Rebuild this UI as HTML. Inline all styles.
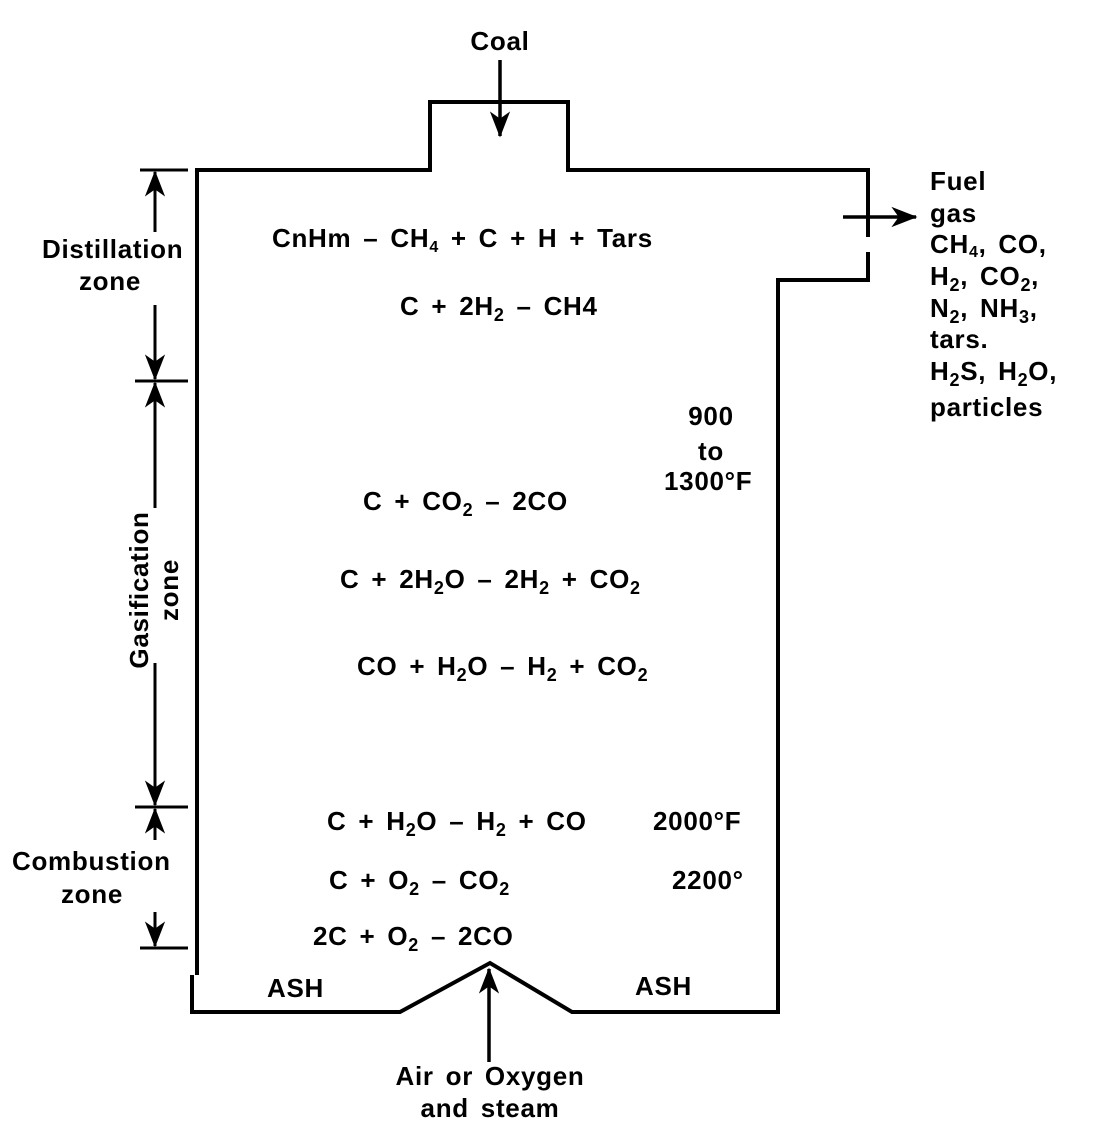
<!DOCTYPE html>
<html><head><style>
html,body{margin:0;padding:0;background:#fff;}
svg{display:block;}
text{font-family:"Liberation Sans",sans-serif;font-size:26px;font-weight:bold;fill:#000;word-spacing:4px;letter-spacing:0.7px;}
</style></head><body>
<svg width="1096" height="1131" viewBox="0 0 1096 1131" xmlns="http://www.w3.org/2000/svg">
<defs>
<marker id="ab" markerWidth="26" markerHeight="26" refX="17" refY="9" orient="auto" markerUnits="userSpaceOnUse" viewBox="0 0 18 18">
<path d="M0,2 L18,9 L0,16 L5,9 z" fill="#000"/></marker>
</defs>
<g fill="none" stroke="#000" stroke-width="4">
<path d="M197,975 L197,170 L430,170 L430,102 L568,102 L568,170 L868,170 L868,237"/>
<path d="M868,252 L868,280 L778,280 L778,1012 L572,1012 L490,963 L400,1012 L192,1012 L192,975"/>
</g>
<g stroke="#000" stroke-width="3.5" fill="none">
<line x1="500" y1="60" x2="500" y2="136" marker-end="url(#ab)"/>
<line x1="843" y1="217" x2="916" y2="217" marker-end="url(#ab)"/>
<line x1="489" y1="1062" x2="489" y2="969" marker-end="url(#ab)"/>
</g>
<g stroke="#000" stroke-width="3" fill="none">
<line x1="140" y1="170" x2="188" y2="170"/>
<line x1="155" y1="232" x2="155" y2="172" marker-end="url(#ab)"/>
<line x1="155" y1="305" x2="155" y2="379" marker-end="url(#ab)"/>
<line x1="135" y1="381" x2="188" y2="381"/>
<line x1="155" y1="508" x2="155" y2="383" marker-end="url(#ab)"/>
<line x1="155" y1="663" x2="155" y2="805" marker-end="url(#ab)"/>
<line x1="135" y1="807" x2="188" y2="807"/>
<line x1="155" y1="840" x2="155" y2="809" marker-end="url(#ab)"/>
<line x1="155" y1="912" x2="155" y2="946" marker-end="url(#ab)"/>
<line x1="140" y1="948" x2="188" y2="948"/>
</g>
<text x="500" y="50" text-anchor="middle">Coal</text>
<text x="272" y="247">CnHm – CH<tspan dy="5" font-size="16">4</tspan><tspan dy="-5"> + C + H + Tars</tspan></text>
<text x="400" y="315">C + 2H<tspan dy="6" font-size="18">2</tspan><tspan dy="-6"> – CH4</tspan></text>
<text x="711" y="425" text-anchor="middle">900</text>
<text x="711" y="460" text-anchor="middle">to</text>
<text x="664" y="490">1300°F</text>
<text x="363" y="510">C + CO<tspan dy="6" font-size="18">2</tspan><tspan dy="-6"> – 2CO</tspan></text>
<text x="340" y="588">C + 2H<tspan dy="6" font-size="18">2</tspan><tspan dy="-6">O – 2H</tspan><tspan dy="6" font-size="18">2</tspan><tspan dy="-6"> + CO</tspan><tspan dy="6" font-size="18">2</tspan></text>
<text x="357" y="675">CO + H<tspan dy="6" font-size="18">2</tspan><tspan dy="-6">O – H</tspan><tspan dy="6" font-size="18">2</tspan><tspan dy="-6"> + CO</tspan><tspan dy="6" font-size="18">2</tspan></text>
<text x="327" y="830">C + H<tspan dy="6" font-size="18">2</tspan><tspan dy="-6">O – H</tspan><tspan dy="6" font-size="18">2</tspan><tspan dy="-6"> + CO</tspan></text>
<text x="653" y="830">2000°F</text>
<text x="329" y="889">C + O<tspan dy="6" font-size="18">2</tspan><tspan dy="-6"> – CO</tspan><tspan dy="6" font-size="18">2</tspan></text>
<text x="672" y="889">2200°</text>
<text x="313" y="945">2C + O<tspan dy="6" font-size="18">2</tspan><tspan dy="-6"> – 2CO</tspan></text>
<text x="267" y="997">ASH</text>
<text x="635" y="995">ASH</text>
<text x="490" y="1085" text-anchor="middle">Air or Oxygen</text>
<text x="490" y="1117" text-anchor="middle">and steam</text>
<text x="930" y="190">Fuel</text>
<text x="930" y="222">gas</text>
<text x="930" y="253">CH<tspan dy="4" font-size="16">4</tspan><tspan dy="-4">, CO,</tspan></text>
<text x="930" y="285">H<tspan dy="6" font-size="18">2</tspan><tspan dy="-6">, CO</tspan><tspan dy="6" font-size="18">2</tspan><tspan dy="-6">,</tspan></text>
<text x="930" y="317">N<tspan dy="6" font-size="18">2</tspan><tspan dy="-6">, NH</tspan><tspan dy="6" font-size="18">3</tspan><tspan dy="-6">,</tspan></text>
<text x="930" y="348">tars.</text>
<text x="930" y="380">H<tspan dy="6" font-size="18">2</tspan><tspan dy="-6">S, H</tspan><tspan dy="6" font-size="18">2</tspan><tspan dy="-6">O,</tspan></text>
<text x="930" y="416">particles</text>
<text x="42" y="258">Distillation</text>
<text x="110" y="290" text-anchor="middle">zone</text>
<text transform="translate(148,590) rotate(-90)" text-anchor="middle">Gasification</text>
<text transform="translate(178,590) rotate(-90)" text-anchor="middle">zone</text>
<text x="12" y="870">Combustion</text>
<text x="92" y="903" text-anchor="middle">zone</text>
</svg>
</body></html>
